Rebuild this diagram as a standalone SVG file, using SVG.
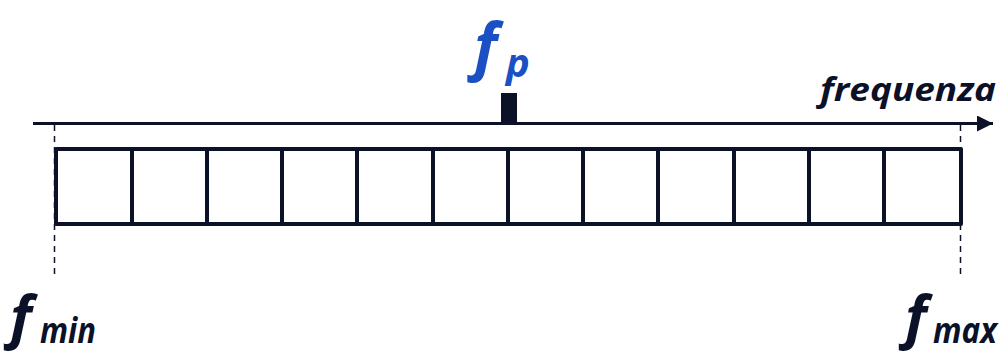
<svg xmlns="http://www.w3.org/2000/svg" width="1007" height="354" viewBox="0 0 1007 354">
<style>
.lbl{font-family:"Open Sans","Noto Sans","Liberation Sans",sans-serif;font-weight:bold;font-style:italic;fill:#0b1127}
.blue{fill:#1b50c4}
.dash{stroke:#0b1127;stroke-width:1.5;stroke-dasharray:6 5;fill:none}
.cell{fill:#fff;stroke:#0b1127;stroke-width:4;stroke-linejoin:round}
</style>
<defs>
<marker id="ah" markerWidth="16" markerHeight="16" refX="16" refY="8" orient="auto" markerUnits="userSpaceOnUse">
<path d="M0,0 L16,8 L0,16 Z" fill="#0b1127"/>
</marker>
</defs>
<g id="connectors">
<line x1="33" y1="123.5" x2="993" y2="123.5" stroke="#0b1127" stroke-width="3" marker-end="url(#ah)"/>
<line class="dash" x1="54.5" y1="125" x2="54.5" y2="274"/>
<line class="dash" x1="960.5" y1="125" x2="960.5" y2="274"/>
</g>
<g id="cells">
<rect class="cell" x="56" y="149" width="905" height="75"/>
<path d="M132 149V224M207 149V224M282 149V224M357 149V224M433 149V224M508 149V224M583 149V224M658 149V224M734 149V224M809 149V224M884 149V224" stroke="#0b1127" stroke-width="4"/>
</g>
<g id="fp">
<rect x="501" y="93" width="16" height="30" fill="#0b1127"/>
<text x="474" y="68" class="lbl blue" font-size="62">f</text>
<text x="506" y="77" class="lbl blue" font-size="40">p</text>
</g>
<g id="freq">
<text x="820" y="101" class="lbl" font-size="33" textLength="176" lengthAdjust="spacingAndGlyphs">frequenza</text>
</g>
<g id="fmin">
<text x="10" y="337" class="lbl" font-size="58">f</text>
<text x="40" y="343" class="lbl" font-size="35" textLength="56" lengthAdjust="spacingAndGlyphs">min</text>
</g>
<g id="fmax">
<text x="905" y="337" class="lbl" font-size="58">f</text>
<text x="933" y="343" class="lbl" font-size="35" textLength="64" lengthAdjust="spacingAndGlyphs">max</text>
</g>
</svg>
